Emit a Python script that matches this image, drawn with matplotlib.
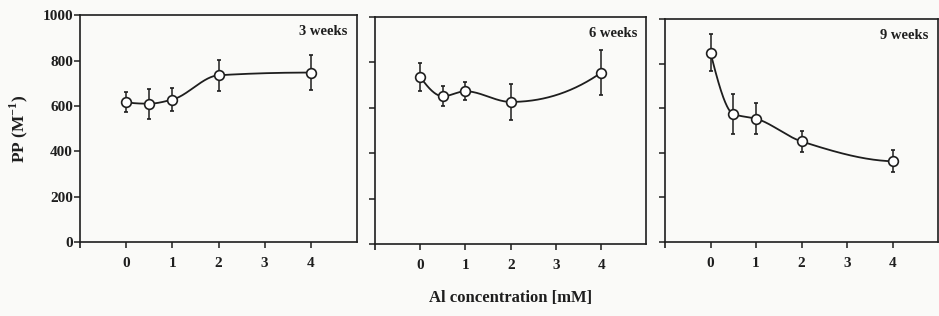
import numpy as np
import matplotlib
matplotlib.use('Agg')
import matplotlib.pyplot as plt

# Al concentration (mM) and PP values
conc = [0, 0.5, 1, 2, 4]
pp_3w = [617, 610, 628, 735, 747]
err_3w = [44, 66, 52, 69, 77]
pp_6w = [736, 651, 673, 626, 755]
err_6w = [62, 43, 39, 78, 100]
pp_9w = [848, 574, 553, 451, 362]
err_9w = [83, 88, 69, 48, 50]
labels = ['3 weeks', '6 weeks', '9 weeks']

ink = '#1e1e1e'
bg = '#fafaf8'
plt.rcParams['font.family'] = ['Liberation Serif', 'DejaVu Serif']


def pchip(x, y, n=300):
    # monotone cubic (Fritsch-Carlson), only used to draw the smooth line
    x = np.asarray(x, float)
    y = np.asarray(y, float)
    h = np.diff(x)
    dl = np.diff(y) / h
    m = len(x)
    d = np.zeros(m)
    for k in range(1, m - 1):
        if dl[k - 1] * dl[k] > 0:
            w1 = 2 * h[k] + h[k - 1]
            w2 = h[k] + 2 * h[k - 1]
            d[k] = (w1 + w2) / (w1 / dl[k - 1] + w2 / dl[k])
    for k, (a, b, ha, hb) in ((0, (dl[0], dl[1], h[0], h[1])),
                              (m - 1, (dl[-1], dl[-2], h[-1], h[-2]))):
        e = ((2 * ha + hb) * a - ha * b) / (ha + hb)
        if np.sign(e) != np.sign(a):
            e = 0
        elif np.sign(a) != np.sign(b) and abs(e) > 3 * abs(a):
            e = 3 * a
        d[k] = e
    xs = np.linspace(x[0], x[-1], n)
    k = np.clip(np.searchsorted(x, xs) - 1, 0, m - 2)
    t = (xs - x[k]) / h[k]
    h00 = 2 * t ** 3 - 3 * t ** 2 + 1
    h10 = t ** 3 - 2 * t ** 2 + t
    h01 = -2 * t ** 3 + 3 * t ** 2
    h11 = t ** 3 - t ** 2
    ys = h00 * y[k] + h10 * h[k] * d[k] + h01 * y[k + 1] + h11 * h[k] * d[k + 1]
    return xs, ys


fig = plt.figure(figsize=(9.39, 3.16), dpi=100, facecolor=bg)
boxes = [[0.0852, 0.234, 0.295, 0.718],
         [0.3994, 0.228, 0.289, 0.718],
         [0.7082, 0.234, 0.291, 0.706]]
series = [(pp_3w, err_3w), (pp_6w, err_6w), (pp_9w, err_9w)]

for i, (box, (vals, errs)) in enumerate(zip(boxes, series)):
    ax = fig.add_axes(box)
    ax.set_facecolor(bg)
    xs, ys = pchip(conc, vals)
    ax.plot(xs, ys, color=ink, lw=1.3, zorder=2)
    ax.errorbar(conc, vals, yerr=errs, fmt='o', color=ink, ms=7,
                mfc='white', mec=ink, mew=1.2, elinewidth=1.1,
                capsize=1.5, capthick=1.1, zorder=3)
    ax.set_xlim(-1, 5)
    ax.set_ylim(0, 1000)
    ax.set_xticks([0, 1, 2, 3, 4])
    ax.set_xticks([-1], minor=True)
    ax.set_yticks(range(0, 1001, 200))
    for s in ax.spines.values():
        s.set_color(ink)
        s.set_linewidth(1.2)
    ax.tick_params(direction='out', length=4, width=1.1, color=ink,
                   labelsize=11, labelcolor=ink)
    ax.tick_params(axis='x', which='minor', length=4, width=1.2, color=ink)
    for lab in ax.get_xticklabels() + ax.get_yticklabels():
        lab.set_fontweight('bold')
    ax.tick_params(axis='x', pad=7)
    if i > 0:
        ax.set_yticklabels([])
    else:
        ax.tick_params(axis='y', pad=1)
        ax.set_ylabel('PP (M$^{\\mathregular{-1}}$)', fontsize=12.5,
                      fontweight='bold', color=ink, labelpad=9)
    ax.text(0.965, 0.955, labels[i], transform=ax.transAxes, ha='right',
            va='top', fontsize=10.5, fontweight='bold', color=ink)
    if i == 1:
        ax.set_xlabel('Al concentration [mM]', fontsize=12, color=ink,
                      fontweight='bold', labelpad=13)

fig.savefig('out.png', dpi=100, facecolor=bg)
